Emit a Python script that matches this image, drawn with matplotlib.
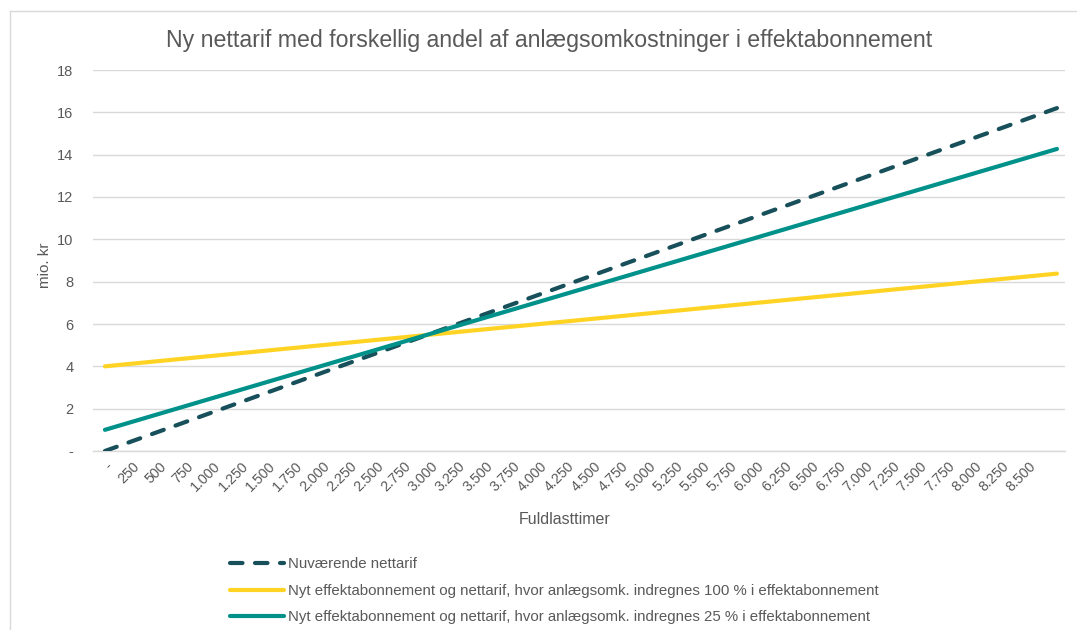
import matplotlib.pyplot as plt
from matplotlib.lines import Line2D

# Data (mio. kr at 0 and 8760 full-load hours)
hours = [0, 8760]
nuvaerende = [0.0, 16.2]
abon_100 = [4.0, 8.38]
abon_25 = [1.0, 14.27]

tick_hours = list(range(0, 8501, 250))
tick_labels = ['-'] + [f'{h:,}'.replace(',', '.') for h in tick_hours[1:]]
y_ticks = [0, 2, 4, 6, 8, 10, 12, 14, 16, 18]
y_labels = ['-'] + [str(v) for v in y_ticks[1:]]

navn = ['Nuværende nettarif',
        'Nyt effektabonnement og nettarif, hvor anlægsomk. indregnes 100 % i effektabonnement',
        'Nyt effektabonnement og nettarif, hvor anlægsomk. indregnes 25 % i effektabonnement']

plt.rcParams['font.family'] = ['Liberation Sans', 'DejaVu Sans']
txt = '#595959'

fig = plt.figure(figsize=(10.77, 6.3), dpi=100)
ax = fig.add_axes([93 / 1077, 1 - 451 / 630, (1065 - 93) / 1077, (451 - 70) / 630])

ax.plot(hours, nuvaerende, color='#17505a', lw=3, dashes=(3, 3), solid_capstyle='round',
        dash_capstyle='round', label=navn[0])
ax.plot(hours, abon_100, color='#ffd324', lw=3, solid_capstyle='round', label=navn[1])
ax.plot(hours, abon_25, color='#00928a', lw=3, solid_capstyle='round', label=navn[2])

ax.set_xlim(-110, 8834)
ax.set_ylim(0, 18)
ax.set_xticks(tick_hours)
ax.set_xticklabels(tick_labels, rotation=45, ha='right', rotation_mode='anchor',
                   fontsize=10.3, color=txt)
ax.set_yticks(y_ticks)
ax.set_yticklabels(y_labels, fontsize=10.5, color=txt)
ax.tick_params(length=0, pad=14)
ax.tick_params(axis='x', pad=6)
ax.grid(axis='y', color='#d9d9d9', lw=1)
ax.axhline(0, color='#d9d9d9', lw=1, clip_on=False, zorder=0)
ax.set_axisbelow(True)
for s in ax.spines.values():
    s.set_visible(False)

fig.text(45 / 1077, 1 - 265 / 630, 'mio. kr', rotation=90, ha='center', va='center',
         fontsize=11, color=txt)
fig.text(565 / 1077, 1 - 520 / 630, 'Fuldlasttimer', ha='center', va='center',
         fontsize=11.5, color=txt)
fig.text(549 / 1077, 1 - 40 / 630, 'Ny nettarif med forskellig andel af anlægsomkostninger i effektabonnement',
         ha='center', va='center', fontsize=16.7, color=txt)

leg = fig.legend(loc='upper left', bbox_to_anchor=(224 / 1077, 1 - 551 / 630), frameon=False,
                 fontsize=10.8, handlelength=3.6, handletextpad=0.3, labelspacing=0.85,
                 borderaxespad=0)
for t in leg.get_texts():
    t.set_color(txt)

# chart border (left and top visible)
fig.add_artist(Line2D([10 / 1077, 10 / 1077], [0, 1 - 11 / 630], transform=fig.transFigure,
                      color='#d9d9d9', lw=1))
fig.add_artist(Line2D([10 / 1077, 1], [1 - 11 / 630, 1 - 11 / 630], transform=fig.transFigure,
                      color='#d9d9d9', lw=1))

fig.savefig('out.png', dpi=100)
